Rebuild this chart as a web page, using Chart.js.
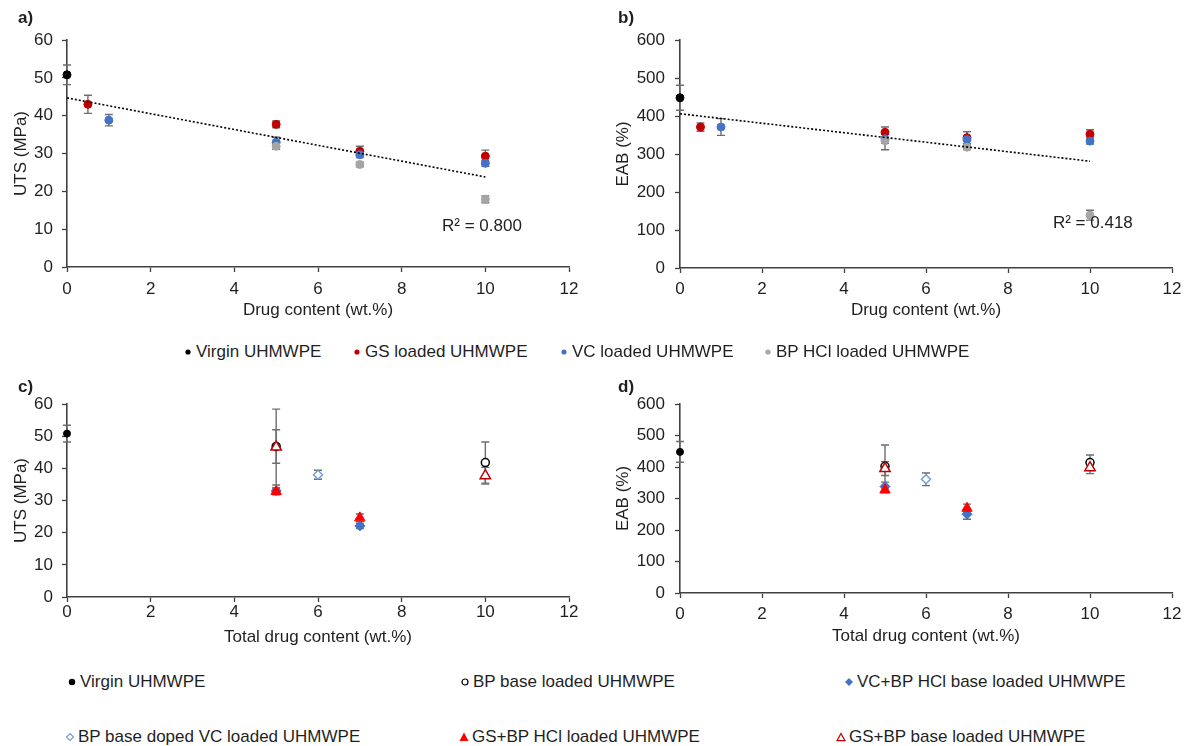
<!DOCTYPE html>
<html>
<head>
<meta charset="utf-8">
<script src="https://cdn.jsdelivr.net/npm/chart.js@4"></script>
<style>
  html, body { margin:0; padding:0; background:#fff; }
  #wrap { position:relative; width:1190px; height:746px; background:#fff; overflow:hidden;
          font-family:"Liberation Sans", Arial, sans-serif; color:#1f1f1f; }
  .pn { position:absolute; }
  .lbl { position:absolute; font-weight:bold; font-size:17px; line-height:20px; }
  .lg { position:absolute; font-size:17px; line-height:20px; white-space:nowrap; }
  .lg svg { position:absolute; top:4px; }
</style>
</head>
<body>
<div id="wrap">
  <canvas id="ca" class="pn" width="590" height="325" style="left:0;top:0"></canvas>
  <canvas id="cb" class="pn" width="590" height="325" style="left:600px;top:0"></canvas>
  <canvas id="cc" class="pn" width="590" height="275" style="left:0;top:375px"></canvas>
  <canvas id="cd" class="pn" width="590" height="275" style="left:600px;top:375px"></canvas>
  <div class="lbl" style="left:18px;top:8px">a)</div>
  <div class="lbl" style="left:618px;top:8px">b)</div>
  <div class="lbl" style="left:18px;top:377px">c)</div>
  <div class="lbl" style="left:618px;top:377px">d)</div>
</div>
<script>
// ---------- data: panels a) and b) ----------
const virginX = [0];
const virginUTS = [50.8];   const virginUTSErr = [2.6];
const virginEAB = [448];    const virginEABErr = [33];

const gsX = [0.5, 5, 7, 10];
const gsUTS = [43.0, 37.7, 30.6, 29.3];  const gsUTSErr = [2.4, 0.9, 1.3, 1.6];
const gsEAB = [371, 357, 343, 352];      const gsEABErr = [11, 14, 16, 12];

const vcX = [1, 5, 7, 10];
const vcUTS = [38.8, 33.0, 29.7, 27.4];  const vcUTSErr = [1.5, 1.3, 0.8, 0.8];
const vcEAB = [371, 340, 338, 334];      const vcEABErr = [22, 12, 21, 8];

const bpHclX = [5, 7, 10];
const bpHclUTS = [31.9, 27.1, 17.9];     const bpHclUTSErr = [0.8, 0.6, 0.9];
const bpHclEAB = [335, 318, 139];        const bpHclEABErr = [24, 6, 13];

const trendX = [0, 10];
const trendUTS = [44.7, 23.8];
const trendEAB = [406, 281];
const r2UTS = 'R² = 0.800';
const r2EAB = 'R² = 0.418';

// ---------- data: panels c) and d) ----------
const bpBaseX = [5, 10];
const bpBaseUTS = [46.8, 41.8];   const bpBaseUTSErr = [5.2, 6.4];
const bpBaseEAB = [402, 414];     const bpBaseEABErr = [68, 24];

const vcBpHclX = [5, 7];
const vcBpHclUTS = [33.0, 22.1];  const vcBpHclUTSErr = [1.0, 0.8];
const vcBpHclEAB = [338, 250];    const vcBpHclEABErr = [14, 16];

const dopedX = [6];
const dopedUTS = [38.0];          const dopedUTSErr = [1.4];
const dopedEAB = [361];           const dopedEABErr = [20];

const gsBpHclX = [5, 7];
const gsBpHclUTS = [32.8, 24.6];  const gsBpHclUTSErr = [1.0, 1.2];
const gsBpHclEAB = [327, 269];    const gsBpHclEABErr = [8, 13];

const gsBpBaseX = [5, 10];
const gsBpBaseUTS = [46.6, 37.7]; const gsBpBaseUTSErr = [11.8, 2.6];
const gsBpBaseEAB = [395, 398];   const gsBpBaseEABErr = [22, 19];

// ---------- axis ticks / labels ----------
const xTicks = [0, 2, 4, 6, 8, 10, 12];
const utsTicks = [0, 10, 20, 30, 40, 50, 60];
const eabTicks = [0, 100, 200, 300, 400, 500, 600];
const xTitleTop = 'Drug content (wt.%)';
const xTitleBottom = 'Total drug content (wt.%)';
const utsTitle = 'UTS (MPa)';
const eabTitle = 'EAB (%)';

const legendTop = ['Virgin UHMWPE', 'GS loaded UHMWPE', 'VC loaded UHMWPE', 'BP HCl loaded UHMWPE'];
const legendBottom = ['Virgin UHMWPE', 'BP base loaded UHMWPE', 'VC+BP HCl base loaded UHMWPE',
                      'BP base doped VC loaded UHMWPE', 'GS+BP HCl loaded UHMWPE', 'GS+BP base loaded UHMWPE'];

// ---------- styling ----------
const FONT = '"Liberation Sans", Arial, sans-serif';
const TXT = '#1f1f1f';
const AX = '#404040';
const ERR = '#6e6e6e';
const C_VIRGIN = '#000000', C_GS = '#C00000', C_VC = '#4472C4', C_BP = '#A5A5A5';
const C_GSBPHCL = '#FF0000', C_GSBPBASE = '#C00000', C_DOPED = '#6F9FD8', C_BPBASE = '#000000';

function pts(xs, ys) { return xs.map((x, i) => ({ x: x, y: ys[i] })); }

const errorBarPlugin = {
  id: 'errbars',
  beforeDatasetsDraw(chart) {
    const { ctx } = chart;
    const xs = chart.scales.x, ys = chart.scales.y;
    chart.data.datasets.forEach(ds => {
      if (!ds.errors) return;
      ctx.save();
      ctx.strokeStyle = ERR;
      ctx.lineWidth = 1.4;
      ds.data.forEach((p, j) => {
        const e = ds.errors[j];
        if (!e) return;
        const px = xs.getPixelForValue(p.x);
        const t = ys.getPixelForValue(p.y + e);
        const b = ys.getPixelForValue(p.y - e);
        ctx.beginPath();
        ctx.moveTo(px, t); ctx.lineTo(px, b);
        ctx.moveTo(px - 4, t); ctx.lineTo(px + 4, t);
        ctx.moveTo(px - 4, b); ctx.lineTo(px + 4, b);
        ctx.stroke();
      });
      ctx.restore();
    });
  }
};

const r2Plugin = {
  id: 'r2',
  afterDatasetsDraw(chart, args, opts) {
    if (!opts || !opts.text) return;
    const { ctx } = chart;
    ctx.save();
    ctx.font = '17px ' + FONT;
    ctx.fillStyle = TXT;
    ctx.textAlign = 'center';
    ctx.textBaseline = 'middle';
    ctx.fillText(opts.text, chart.scales.x.getPixelForValue(opts.x), chart.scales.y.getPixelForValue(opts.y));
    ctx.restore();
  }
};

function series(label, xs, ys, errs, color, style, radius, order, opts) {
  const o = Object.assign({
    label: label,
    data: pts(xs, ys),
    errors: errs,
    pointStyle: style,
    pointRadius: radius,
    pointHoverRadius: radius,
    pointBackgroundColor: color,
    pointBorderColor: color,
    pointBorderWidth: 1,
    showLine: false,
    clip: false,
    order: order
  }, opts || {});
  return o;
}

function trend(xs, ys) {
  return {
    label: 'trend',
    data: pts(xs, ys),
    showLine: true,
    borderColor: '#000',
    borderWidth: 1.6,
    borderDash: [2, 2],
    pointRadius: 0,
    clip: false,
    order: 0
  };
}

function makeChart(id, cfg) {
  const tickFont = { family: FONT, size: 17 };
  return new Chart(document.getElementById(id), {
    type: 'scatter',
    data: { datasets: cfg.datasets },
    plugins: [errorBarPlugin, r2Plugin],
    options: {
      responsive: false,
      animation: false,
      events: [],
      layout: { padding: { left: 0, right: cfg.padRight, top: cfg.padTop, bottom: 0 } },
      plugins: {
        legend: { display: false },
        tooltip: { enabled: false },
        r2: cfg.r2 || {}
      },
      scales: {
        x: {
          type: 'linear', min: xTicks[0], max: xTicks[xTicks.length - 1],
          afterBuildTicks: s => { s.ticks = xTicks.map(v => ({ value: v })); },
          afterFit: s => { s.height = cfg.xHeight; },
          ticks: { color: TXT, font: tickFont, padding: cfg.xTickPad, maxRotation: 0, autoSkip: false },
          grid: { drawOnChartArea: false, drawTicks: true, tickLength: 5, color: AX, tickWidth: 1.3 },
          border: { color: AX, width: 1.6 },
          title: { display: true, text: cfg.xTitle, color: TXT, font: tickFont,
                   padding: { top: 0, bottom: cfg.xTitlePad } }
        },
        y: {
          type: 'linear', min: cfg.yTicks[0], max: cfg.yTicks[cfg.yTicks.length - 1],
          afterBuildTicks: s => { s.ticks = cfg.yTicks.map(v => ({ value: v })); },
          afterFit: s => { s.width = cfg.yWidth; },
          ticks: { color: TXT, font: tickFont, padding: cfg.yTickPad, autoSkip: false },
          grid: { drawOnChartArea: false, drawTicks: true, tickLength: 5, color: AX, tickWidth: 1.3 },
          border: { color: AX, width: 1.6 },
          title: { display: true, text: cfg.yTitle, color: TXT, font: tickFont,
                   padding: { top: cfg.yTitlePad, bottom: 0 } }
        }
      }
    }
  });
}

// ---------- panel a ----------
makeChart('ca', {
  padRight: 21, padTop: 40, xHeight: 58, xTickPad: 7, xTitlePad: 4, yWidth: 67, yTickPad: 9, yTitlePad: 11,
  xTitle: xTitleTop, yTitle: utsTitle, yTicks: utsTicks,
  r2: { text: r2UTS, x: 9.92, y: 10.8 },
  datasets: [
    trend(trendX, trendUTS),
    series(legendTop[0], virginX, virginUTS, virginUTSErr, C_VIRGIN, 'circle', 4, 4),
    series(legendTop[1], gsX, gsUTS, gsUTSErr, C_GS, 'circle', 4, 3),
    series(legendTop[2], vcX, vcUTS, vcUTSErr, C_VC, 'circle', 4, 2),
    series(legendTop[3], bpHclX, bpHclUTS, bpHclUTSErr, C_BP, 'circle', 4, 1)
  ]
});

// ---------- panel b ----------
makeChart('cb', {
  padRight: 18, padTop: 40, xHeight: 57, xTickPad: 6, xTitlePad: 4, yWidth: 80, yTickPad: 10, yTitlePad: 13,
  xTitle: xTitleTop, yTitle: eabTitle, yTicks: eabTicks,
  r2: { text: r2EAB, x: 10.07, y: 118 },
  datasets: [
    trend(trendX, trendEAB),
    series(legendTop[0], virginX, virginEAB, virginEABErr, C_VIRGIN, 'circle', 4, 4),
    series(legendTop[1], gsX, gsEAB, gsEABErr, C_GS, 'circle', 4, 3),
    series(legendTop[2], vcX, vcEAB, vcEABErr, C_VC, 'circle', 4, 2),
    series(legendTop[3], bpHclX, bpHclEAB, bpHclEABErr, C_BP, 'circle', 4, 1)
  ]
});

function bottomSets(vals) {
  return [
    series(legendBottom[0], virginX, vals.virgin, vals.virginErr, C_VIRGIN, 'circle', 3.5, 6),
    series(legendBottom[1], bpBaseX, vals.bpBase, vals.bpBaseErr, C_BPBASE, 'circle', 4, 5,
           { pointBackgroundColor: '#fff', pointBorderWidth: 1.5 }),
    series(legendBottom[2], vcBpHclX, vals.vcBpHcl, vals.vcBpHclErr, C_VC, 'rectRot', 5, 4),
    series(legendBottom[3], dopedX, vals.doped, vals.dopedErr, C_DOPED, 'rectRot', 4.5, 3,
           { pointBackgroundColor: '#fff', pointBorderWidth: 1.5 }),
    series(legendBottom[4], gsBpHclX, vals.gsBpHcl, vals.gsBpHclErr, C_GSBPHCL, 'triangle', 6, 2),
    series(legendBottom[5], gsBpBaseX, vals.gsBpBase, vals.gsBpBaseErr, C_GSBPBASE, 'triangle', 6, 1,
           { pointBackgroundColor: '#fff', pointBorderWidth: 1.5 })
  ];
}

// ---------- panel c ----------
makeChart('cc', {
  padRight: 21, padTop: 29, xHeight: 53, xTickPad: 0, xTitlePad: 2, yWidth: 67, yTickPad: 9, yTitlePad: 11,
  xTitle: xTitleBottom, yTitle: utsTitle, yTicks: utsTicks,
  datasets: bottomSets({
    virgin: virginUTS, virginErr: virginUTSErr,
    bpBase: bpBaseUTS, bpBaseErr: bpBaseUTSErr,
    vcBpHcl: vcBpHclUTS, vcBpHclErr: vcBpHclUTSErr,
    doped: dopedUTS, dopedErr: dopedUTSErr,
    gsBpHcl: gsBpHclUTS, gsBpHclErr: gsBpHclUTSErr,
    gsBpBase: gsBpBaseUTS, gsBpBaseErr: gsBpBaseUTSErr
  })
});

// ---------- panel d ----------
makeChart('cd', {
  padRight: 18, padTop: 29, xHeight: 57, xTickPad: 6, xTitlePad: 3, yWidth: 80, yTickPad: 10, yTitlePad: 13,
  xTitle: xTitleBottom, yTitle: eabTitle, yTicks: eabTicks,
  datasets: bottomSets({
    virgin: virginEAB, virginErr: virginEABErr,
    bpBase: bpBaseEAB, bpBaseErr: bpBaseEABErr,
    vcBpHcl: vcBpHclEAB, vcBpHclErr: vcBpHclEABErr,
    doped: dopedEAB, dopedErr: dopedEABErr,
    gsBpHcl: gsBpHclEAB, gsBpHclErr: gsBpHclEABErr,
    gsBpBase: gsBpBaseEAB, gsBpBaseErr: gsBpBaseEABErr
  })
});

// ---------- HTML legends ----------
function markerSvg(kind, color) {
  let shape = '';
  if (kind === 'dot') shape = `<circle cx="6" cy="6" r="2.6" fill="${color}"/>`;
  else if (kind === 'dotB') shape = `<circle cx="6" cy="6" r="3.2" fill="${color}"/>`;
  else if (kind === 'ring') shape = `<circle cx="6" cy="6" r="3" fill="#fff" stroke="${color}" stroke-width="1.2"/>`;
  else if (kind === 'dia') shape = `<polygon points="6,2 10,6 6,10 2,6" fill="${color}"/>`;
  else if (kind === 'diaO') shape = `<polygon points="6,2.5 9.5,6 6,9.5 2.5,6" fill="#fff" stroke="${color}" stroke-width="1.2"/>`;
  else if (kind === 'tri') shape = `<polygon points="6,1.5 10.5,10 1.5,10" fill="${color}"/>`;
  else if (kind === 'triO') shape = `<polygon points="6,2.5 10,9.6 2,9.6" fill="#fff" stroke="${color}" stroke-width="1.2"/>`;
  return `<svg width="12" height="12" style="left:-6px">${shape}</svg>`;
}
const wrap = document.getElementById('wrap');
function addLegend(text, kind, color, mx, my, tx) {
  const d = document.createElement('div');
  d.className = 'lg';
  d.style.left = mx + 'px';
  d.style.top = (my - 10) + 'px';
  d.innerHTML = markerSvg(kind, color) + `<span style="position:absolute;left:${tx - mx}px;top:0">${text}</span>`;
  wrap.appendChild(d);
}
const lgTopKinds = [['dot', C_VIRGIN], ['dot', C_GS], ['dot', C_VC], ['dot', C_BP]];
const lgTopX = [188, 357, 564, 768];
legendTop.forEach((t, i) => addLegend(t, lgTopKinds[i][0], lgTopKinds[i][1], lgTopX[i], 352, lgTopX[i] + 8));

const lgBotKinds = [['dotB', C_VIRGIN], ['ring', C_BPBASE], ['dia', C_VC], ['diaO', C_DOPED], ['tri', C_GSBPHCL], ['triO', C_GSBPBASE]];
const lgBotX = [72, 465, 849, 70, 464, 841];
const lgBotY = [682, 682, 682, 737, 737, 737];
legendBottom.forEach((t, i) => addLegend(t, lgBotKinds[i][0], lgBotKinds[i][1], lgBotX[i], lgBotY[i], lgBotX[i] + 8));
</script>
</body>
</html>
